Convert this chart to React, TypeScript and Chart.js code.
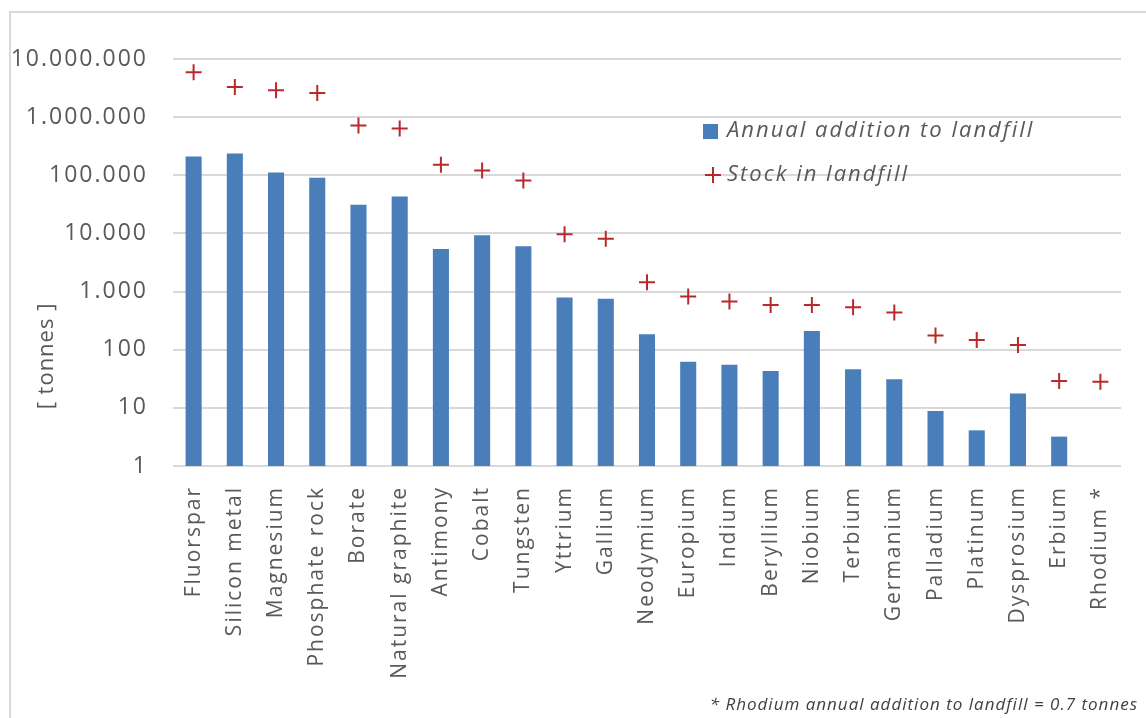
import React, { useEffect, useRef } from "react";
import { Chart, registerables } from "chart.js";

Chart.register(...registerables);

const materials = [
  "Fluorspar", "Silicon metal", "Magnesium", "Phosphate rock", "Borate",
  "Natural graphite", "Antimony", "Cobalt", "Tungsten", "Yttrium", "Gallium",
  "Neodymium", "Europium", "Indium", "Beryllium", "Niobium", "Terbium",
  "Germanium", "Palladium", "Platinum", "Dysprosium", "Erbium", "Rhodium *",
];

// tonnes per year added to landfill
const annualAddition = [
  210000, 237000, 112000, 91000, 31000, 43000, 5400, 9300, 6000, 790, 750,
  185, 62, 55, 43, 210, 46, 31, 8.8, 4.1, 17.6, 3.2, 0.7,
];

// tonnes accumulated in landfill
const stockInLandfill = [
  5900000, 3300000, 2900000, 2600000, 720000, 640000, 152000, 121000, 81000,
  9700, 8100, 1450, 820, 675, 590, 590, 540, 435, 175, 147, 121, 29, 28,
];

const yTicks = [1, 10, 100, 1000, 10000, 100000, 1000000, 10000000];

const seriesLabels = ["Annual addition to landfill", "Stock in landfill"];
const axisTitle = "[ tonnes ]";
const footnote = "* Rhodium annual addition to landfill = 0.7 tonnes";

const BLUE = "#4a7ebb";
const RED = "#b8282c";
const TEXT = "#595959";
const GRID = "#d9d9d9";

const formatTick = (v: number) =>
  String(Math.round(v)).replace(/\B(?=(\d{3})+(?!\d))/g, ".");

// slightly wider letter spacing for all canvas text
const spacing = {
  id: "spacing",
  beforeDraw(chart: Chart) {
    (chart.ctx as any).letterSpacing = "2px";
  },
  afterDraw(chart: Chart) {
    (chart.ctx as any).letterSpacing = "0px";
  },
};

const annotations = {
  id: "annotations",
  afterDraw(chart: Chart) {
    const ctx = chart.ctx as any;
    ctx.save();
    ctx.fillStyle = TEXT;

    // rotated axis title
    ctx.save();
    ctx.letterSpacing = "1px";
    ctx.translate(47, 356);
    ctx.rotate(-Math.PI / 2);
    ctx.font = "22px 'Open Sans'";
    ctx.textAlign = "center";
    ctx.textBaseline = "middle";
    ctx.fillText(axisTitle, 0, 0);
    ctx.restore();

    // legend inside the plot
    ctx.fillStyle = BLUE;
    ctx.fillRect(703, 124, 15, 15);
    ctx.strokeStyle = RED;
    ctx.lineWidth = 2;
    ctx.beginPath();
    ctx.moveTo(705, 175);
    ctx.lineTo(721, 175);
    ctx.moveTo(713, 167);
    ctx.lineTo(713, 183);
    ctx.stroke();

    ctx.fillStyle = TEXT;
    ctx.letterSpacing = "2px";
    ctx.font = "italic 22px 'Open Sans'";
    ctx.textAlign = "left";
    ctx.textBaseline = "middle";
    ctx.fillText(seriesLabels[0], 727, 131);
    ctx.fillText(seriesLabels[1], 727, 175);

    // footnote
    ctx.letterSpacing = "1px";
    ctx.font = "italic 17px 'Open Sans'";
    ctx.textAlign = "right";
    ctx.fillStyle = "#404040";
    ctx.fillText(footnote, 1138, 705);
    ctx.restore();
  },
};

export default function App() {
  const ref = useRef<HTMLCanvasElement>(null);

  useEffect(() => {
    document.body.style.margin = "0";
    const chart = new Chart(ref.current!, {
      type: "bar",
      data: {
        labels: materials,
        datasets: [
          {
            type: "bar",
            label: seriesLabels[0],
            data: annualAddition,
            backgroundColor: BLUE,
            barPercentage: 0.39,
            categoryPercentage: 1,
            clip: 0,
            order: 2,
          },
          {
            type: "line",
            label: seriesLabels[1],
            data: stockInLandfill,
            showLine: false,
            pointStyle: "cross",
            pointRadius: 8,
            pointBorderWidth: 2,
            borderColor: RED,
            backgroundColor: RED,
            order: 1,
          },
        ],
      },
      options: {
        responsive: false,
        animation: false,
        devicePixelRatio: 1,
        layout: { padding: { top: 59, right: 19, left: 0, bottom: 0 } },
        plugins: {
          legend: { display: false },
          tooltip: { enabled: false },
        },
        scales: {
          x: {
            grid: { display: false, drawTicks: false },
            border: { display: false },
            ticks: {
              color: TEXT,
              font: { family: "'Open Sans'", size: 21 },
              minRotation: 90,
              maxRotation: 90,
              padding: 20,
              autoSkip: false,
            },
            afterFit: (s: any) => {
              s.height = 252;
            },
          },
          y: {
            type: "logarithmic",
            min: 1,
            max: 10000000,
            grid: { color: GRID, lineWidth: 2, drawTicks: false },
            border: { display: false },
            afterBuildTicks: (s: any) => {
              s.ticks = yTicks.map((v) => ({ value: v }));
            },
            ticks: {
              color: TEXT,
              font: { family: "'Open Sans'", size: 23 },
              padding: 25,
              callback: (v: any) => formatTick(Number(v)),
            },
            afterFit: (s: any) => {
              s.width = 173;
            },
          },
        },
      },
      plugins: [spacing, annotations],
    });
    return () => chart.destroy();
  }, []);

  return (
    <div
      style={{
        position: "absolute",
        left: 0,
        top: 0,
        width: 1146,
        height: 718,
        background: "#fff",
        overflow: "hidden",
      }}
    >
      <div
        style={{
          position: "absolute",
          left: 9,
          top: 11,
          right: -4,
          bottom: -4,
          borderLeft: `2px solid ${GRID}`,
          borderTop: `2px solid ${GRID}`,
        }}
      />
      <canvas
        ref={ref}
        width={1146}
        height={718}
        style={{ position: "absolute", left: 0, top: 0 }}
      />
    </div>
  );
}
